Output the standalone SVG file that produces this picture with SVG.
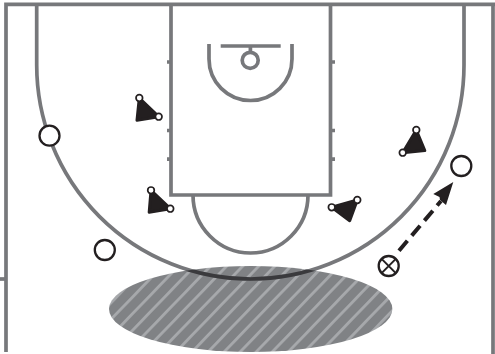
<svg xmlns="http://www.w3.org/2000/svg" width="495" height="354" viewBox="0 0 495 354">
<style>
.ln{fill:none;stroke:#77787b;stroke-width:3.7}
.p{fill:#231f20;stroke:#231f20;stroke-width:3;stroke-linejoin:round}
.d{fill:#fff;stroke:#231f20;stroke-width:1.7}
.o{fill:#fff;stroke:#231f20;stroke-width:2.3}
</style>
<defs>
<pattern id="st" width="16.5" height="16.5" patternUnits="userSpaceOnUse" patternTransform="rotate(44) scale(0.7)">
<rect width="16.5" height="16.5" fill="#808285"/>
<rect width="4" height="16.5" fill="#a7a9ac"/>
</pattern>
<clipPath id="ec"><ellipse cx="250.7" cy="309" rx="141.7" ry="43"/></clipPath>
</defs>
<rect width="495" height="354" fill="#fff"/>
<g id="court">
<ellipse id="zone" cx="250.7" cy="309" rx="141.7" ry="43" fill="url(#st)"/>
<path class="ln" d="M6 352V4.300H495"/>
<path class="ln" d="M493 4.300V354"/>
<path class="ln" d="M0 279H6"/>
<path class="ln" d="M36.700 4.300V65A213.650 214 0 0 0 464 65V4.300"/>
<path d="M36.700 65A213.650 214 0 0 0 464 65" fill="none" stroke="#3a3a3d" stroke-width="3.700" clip-path="url(#ec)"/>
<path class="ln" d="M171 4.300V195H330.500V4.300"/>
<path class="ln" d="M193 195A57.500 58 0 0 0 308 195"/>
<path class="ln" d="M209 44V59A41.500 41.500 0 0 0 292 59V44"/>
<path class="ln" d="M220.700 46H280.700M250.400 46V52"/>
<circle class="ln" cx="250.200" cy="60.300" r="8"/>
<path class="ln" d="M167 62H171M167 130.500H171M167 159.200H171M330.500 62H335M330.500 130.500H335M330.500 159.200H335"/>
</g>
<g id="d1"><path class="p" d="M139.300 98L158.700 116.700L137 120.200Z"/><circle class="d" cx="139.300" cy="98" r="3.300"/><circle class="d" cx="158.700" cy="116.700" r="3.300"/></g>
<g id="d2"><path class="p" d="M151 190.300L170.300 208.700L149.200 212.200Z"/><circle class="d" cx="151" cy="190.300" r="3.300"/><circle class="d" cx="170.300" cy="208.700" r="3.300"/></g>
<g id="d3"><path class="p" d="M357.300 200L331.700 207.300L349.700 220.700Z"/><circle class="d" cx="357.300" cy="200" r="3.300"/><circle class="d" cx="331.700" cy="207.300" r="3.300"/></g>
<g id="d4"><path class="p" d="M416.300 130L402.700 152.700L424.800 150.600Z"/><circle class="d" cx="416.300" cy="130" r="3.300"/><circle class="d" cx="402.700" cy="152.700" r="3.300"/></g>
<g id="o1"><circle class="o" cx="49.500" cy="135.700" r="10"/></g>
<g id="o2"><circle class="o" cx="104.800" cy="250" r="10"/></g>
<g id="o3"><circle class="o" cx="461.300" cy="166" r="10"/></g>
<g id="x1"><circle class="o" cx="388.700" cy="266" r="10"/><path d="M381.600 258.900L395.800 273.100M395.800 258.900L381.600 273.100" stroke="#231f20" stroke-width="2" fill="none"/></g>
<g id="connectors">
<path d="M399 250.700L441 201" fill="none" stroke="#231f20" stroke-width="4" stroke-dasharray="13 6.700"/>
<path fill="#231f20" d="M453.300 182L433.300 194L439.500 197L440 200L446 205Z"/>
</g>
</svg>
